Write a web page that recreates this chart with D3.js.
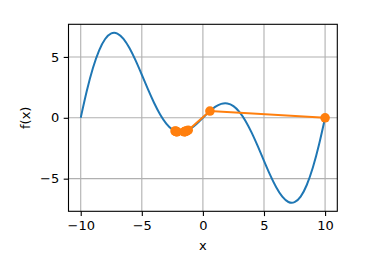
<!DOCTYPE html>
<html><head><meta charset="utf-8">
<script src="https://cdn.jsdelivr.net/npm/d3@7"></script>
<style>body{margin:0;background:#fff}svg{display:block}text{font-family:"DejaVu Sans",sans-serif}</style>
</head><body><svg id="c" width="382" height="277"></svg>
<script>
const curveX = [-10,-9.5,-9,-8.5,-8,-7.5,-7,-6.5,-6,-5.5,-5,-4.5,-4,-3.5,-3,-2.5,-2,-1.5,-1,-0.5,0,0.5,1,1.5,2,2.5,3,3.5,4,4.5,5,5.5,6,6.5,7,7.5,8,8.5,9,9.5,10];
const curveY = [0,2.21778,4.08591,5.52032,6.47214,6.92910,6.91382,6.47999,5.70634,4.68952,3.53553,2.35124,1.23607,0.27462,-0.46930,-0.95671,-1.17557,-1.14062,-0.89101,-0.48619,0,0.48619,0.89101,1.14062,1.17557,0.95671,0.46930,-0.27462,-1.23607,-2.35124,-3.53553,-4.68952,-5.70634,-6.47999,-6.91382,-6.92910,-6.47214,-5.52032,-4.08591,-2.21778,0];
const traceX = [10,0.5752,-1.2066,-2.2795,-1.3430,-2.2070,-1.4245,-2.1555,-1.4822,-2.1152,-1.5262];
const traceY = [0,0.5541,-1.0168,-1.0856,-1.0829,-1.1165,-1.1154,-1.1354,-1.1350,-1.1479,-1.1483];
const xTicks = [-10,-5,0,5,10];
const yTicks = [-5,0,5];

const L=68.5,R=337.3,T=24.3,B=211.3;
const svg=d3.select("#c");
const x=d3.scaleLinear().domain([-11,11]).range([L,R]);
const y=d3.scaleLinear().domain([-7.68,7.68]).range([B,T]);
const fmt=d3.format("");
// grid
svg.append("g").selectAll("line").data(xTicks).join("line")
 .attr("x1",d=>x(d)).attr("x2",d=>x(d)).attr("y1",T).attr("y2",B)
 .attr("stroke","#b0b0b0").attr("stroke-width",1.1);
svg.append("g").selectAll("line").data(yTicks).join("line")
 .attr("y1",d=>y(d)).attr("y2",d=>y(d)).attr("x1",L).attr("x2",R)
 .attr("stroke","#b0b0b0").attr("stroke-width",1.1);
// clip
svg.append("clipPath").attr("id","clip").append("rect").attr("x",L).attr("y",T).attr("width",R-L).attr("height",B-T);
const pts=curveX.map((v,i)=>[v,curveY[i]]);
svg.append("path").attr("clip-path","url(#clip)").attr("d",d3.line().x(d=>x(d[0])).y(d=>y(d[1])).curve(d3.curveNatural)(pts))
 .attr("fill","none").attr("stroke","#1f77b4").attr("stroke-width",2);
const tp=traceX.map((v,i)=>[v,traceY[i]]);
svg.append("path").attr("d",d3.line().x(d=>x(d[0])).y(d=>y(d[1]))(tp))
 .attr("fill","none").attr("stroke","#ff7f0e").attr("stroke-width",2);
svg.append("g").selectAll("circle").data(tp).join("circle")
 .attr("cx",d=>x(d[0])).attr("cy",d=>y(d[1])).attr("r",4.8).attr("fill","#ff7f0e");
// axes
const xa=svg.append("g").attr("transform",`translate(0,${B})`).call(d3.axisBottom(x).tickValues(xTicks).tickFormat(fmt).tickSizeOuter(0).tickSize(4.8).tickPadding(4.5));
const ya=svg.append("g").attr("transform",`translate(${L},0)`).call(d3.axisLeft(y).tickValues(yTicks).tickFormat(fmt).tickSizeOuter(0).tickSize(4.8).tickPadding(4.5));
[xa,ya].forEach(a=>{a.select(".domain").remove();a.selectAll("line").attr("stroke","#000").attr("stroke-width",1.1);
 a.selectAll("text").attr("font-size",13).attr("fill","#000").attr("font-family","DejaVu Sans");});
svg.append("rect").attr("x",L).attr("y",T).attr("width",R-L).attr("height",B-T).attr("fill","none").attr("stroke","#000").attr("stroke-width",1.1);
svg.append("text").attr("x",(L+R)/2).attr("y",250).attr("text-anchor","middle").attr("font-size",13).text("x");
svg.append("text").attr("transform",`translate(30,${(T+B)/2}) rotate(-90)`).attr("text-anchor","middle").attr("font-size",13).text("f(x)");
</script></body></html>
